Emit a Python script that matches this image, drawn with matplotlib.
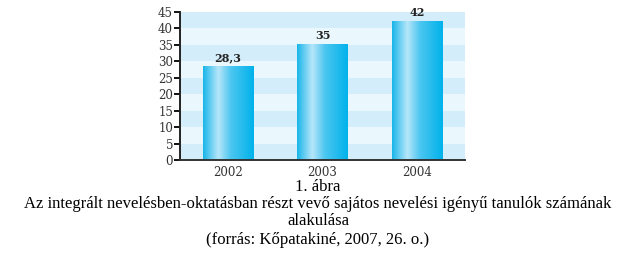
import numpy as np
import matplotlib
matplotlib.use("Agg")
import matplotlib.pyplot as plt
from matplotlib.colors import LinearSegmentedColormap

years = ["2002", "2003", "2004"]
values = [28.3, 35, 42]
value_labels = ["28,3", "35", "42"]
yticks = [0, 5, 10, 15, 20, 25, 30, 35, 40, 45]
caption = ["1. ábra",
           "Az integrált nevelésben-oktatásban részt vevő sajátos nevelési igényű tanulók számának",
           "alakulása",
           "(forrás: Kőpatakiné, 2007, 26. o.)"]

fig = plt.figure(figsize=(6.36, 2.59), dpi=100)
W, H = 636, 259
ax = fig.add_axes([180 / W, 1 - 160 / H, 285 / W, 148 / H])

ax.set_xlim(-0.508, 2.508)
ax.set_ylim(0, 45)

# stripes
for i, lo in enumerate(range(0, 45, 5)):
    col = "#d3eefa" if i % 2 == 0 else "#eaf7fd"
    ax.axhspan(lo, lo + 5, color=col, lw=0, zorder=0)

cmap = LinearSegmentedColormap.from_list(
    "g", [(0, "#18b6ea"), (0.3, "#b6e6f9"), (0.55, "#4cc6f0"), (1, "#00b2eb")])
grad = np.linspace(0, 1, 256).reshape(1, -1)
bw = 0.53
for i, v in enumerate(values):
    x0, x1 = i - bw / 2, i + bw / 2
    ax.imshow(grad, cmap=cmap, extent=[x0, x1, 0, v], aspect="auto", zorder=2)
    ax.text(i, v + 1.2, value_labels[i], ha="center", va="bottom",
            fontsize=8, fontweight="bold", family="DejaVu Serif", color="#222222")

ax.set_xticks(range(len(years)))
ax.set_xticklabels(years, family="DejaVu Serif", fontsize=8.5, color="#333333")
ax.set_yticks(yticks)
ax.set_yticklabels([str(t) for t in yticks], family="DejaVu Serif", fontsize=8.5, color="#333333")
ax.tick_params(axis="x", length=0, pad=4)
ax.tick_params(axis="y", length=4, width=1.3, pad=1)
for s in ["top", "right"]:
    ax.spines[s].set_visible(False)
ax.spines["left"].set_linewidth(1.4)
ax.spines["bottom"].set_linewidth(1.4)
ax.spines["left"].set_color("#222222")
ax.spines["bottom"].set_color("#333333")

ys = [187, 204, 221, 240]
for t, y in zip(caption, ys):
    fig.text(0.5, 1 - y / H, t, ha="center", va="center", fontsize=12,
             family="Liberation Serif", color="black")

fig.savefig("out.png", dpi=100)
